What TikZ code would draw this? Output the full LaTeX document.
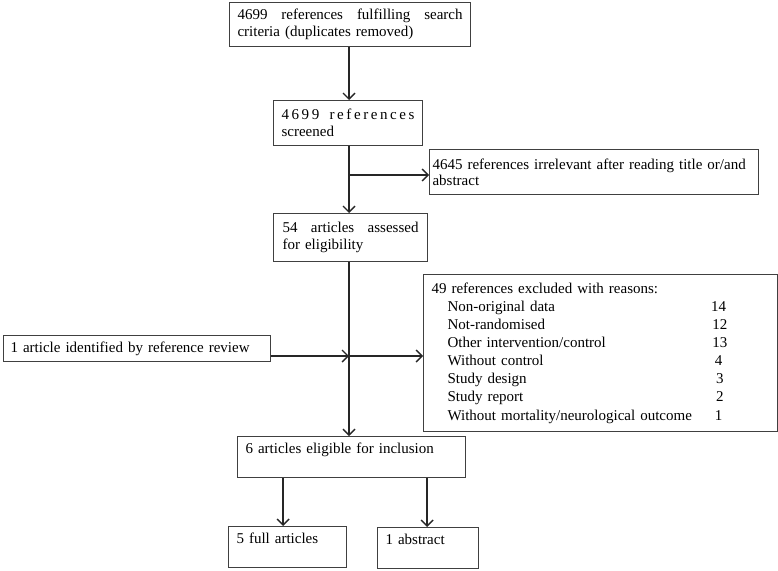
\documentclass[tikz,border=0pt]{standalone}
\usepackage{fontspec}
\setmainfont{Liberation Serif}
\usetikzlibrary{arrows.meta}
\begin{document}
\begin{tikzpicture}[x=1pt,y=-1pt,
  box/.style={draw=black!75, line width=1.1pt, anchor=north west, inner ysep=0pt,
    align=left, font=\fontsize{15}{17}\selectfont, text=black},
  arr/.style={line width=1.4pt, draw=black!85,
    -{Straight Barb[length=6pt,width=12pt,line width=1.4pt]}},
  ln/.style={line width=1.4pt, draw=black!85}]
\useasboundingbox (0,0) rectangle (778,570);
\fill[white] (0,0) rectangle (778,570);
% boxes
\node[box, inner xsep=8pt, text width=225pt, minimum height=44pt] (b1) at (229,2)
  {\makebox[\linewidth][s]{4699\hfill references\hfill fulfilling\hfill search}\\criteria (duplicates removed)};
\node[box, inner xsep=8pt, text width=133pt, minimum height=45pt] (b2) at (273,100)
  {\makebox[\linewidth][s]{4\hfill6\hfill9\hfill9\hfill\hfill\hfill\hfill r\hfill e\hfill f\hfill e\hfill r\hfill e\hfill n\hfill c\hfill e\hfill s}\\screened};
\node[box, inner xsep=3pt, text width=323pt, minimum height=45pt,
  font=\fontsize{15}{16}\selectfont] (b3) at (429,149)
  {4645 references irrelevant after reading title or/and\\abstract};
\node[box, inner xsep=9pt, text width=136pt, minimum height=48pt] (b4) at (273,213)
  {\makebox[\linewidth][s]{54\hfill articles\hfill assessed}\\for eligibility};
\node[box, inner xsep=7pt, text width=253pt, minimum height=26pt] (b5) at (3,335)
  {1 article identified by reference review};
\node[box, inner xsep=8pt, text width=338pt, minimum height=157pt,
  font=\fontsize{15}{18.1}\selectfont] (ex) at (423,274)
  {49 references excluded with reasons:\\
   \hspace*{16pt}\makebox[256pt][l]{Non-original data}\makebox[30pt]{14}\\
   \hspace*{16pt}\makebox[256pt][l]{Not-randomised}\makebox[30pt]{\,12}\\
   \hspace*{16pt}\makebox[256pt][l]{Other intervention/control}\makebox[30pt]{\,13}\\
   \hspace*{16pt}\makebox[256pt][l]{Without control}\makebox[30pt]{4}\\
   \hspace*{16pt}\makebox[256pt][l]{Study design}\makebox[30pt]{\,3}\\
   \hspace*{16pt}\makebox[256pt][l]{Study report}\makebox[30pt]{\,2}\\
   \hspace*{16pt}\makebox[256pt][l]{Without mortality/neurological outcome}\makebox[30pt]{1}};
\node[box, inner xsep=8pt, text width=212pt, minimum height=41pt] (b6) at (237,436)
  {6 articles eligible for inclusion\\\mbox{}};
\node[box, inner xsep=8pt, text width=102pt, minimum height=41pt] (full) at (228,526)
  {5 full articles\\\mbox{}};
\node[box, inner xsep=8pt, text width=85pt, minimum height=41pt] (abs) at (377,527)
  {1 abstract\\\mbox{}};
% connectors
\coordinate (br) at (349,175);
\coordinate (jn) at (349,356);
\draw[arr] (b1.south -| br) -- (br |- b2.north);
\draw[ln] (b2.south -| br) -- (br);
\draw[arr] (br) -- (br -| b3.west);
\draw[arr] (br) -- (br |- b4.north);
\draw[ln] (b4.south -| jn) -- (jn);
\draw[arr] (jn) -- (jn |- b6.north);
\draw[arr] (b5.east |- jn) -- (jn);
\draw[arr] (jn) -- (jn -| ex.west);
\draw[arr] ([xshift=-4.5pt]full.north |- b6.south) -- ([xshift=-4.5pt]full.north);
\draw[arr] ([xshift=-1pt]abs.north |- b6.south) -- ([xshift=-1pt]abs.north);
\end{tikzpicture}
\end{document}
